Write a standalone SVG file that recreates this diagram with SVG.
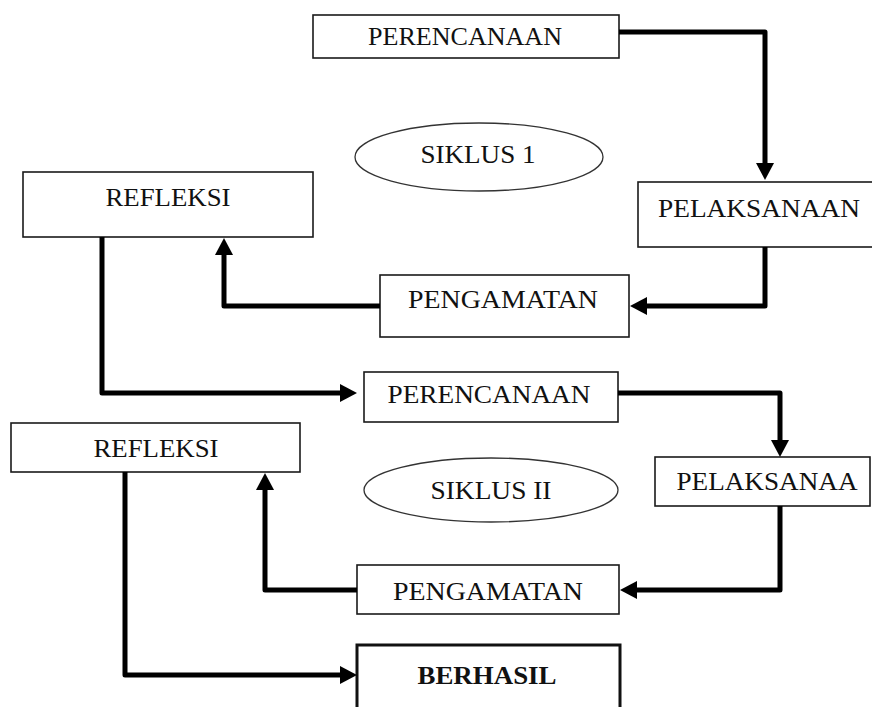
<svg xmlns="http://www.w3.org/2000/svg" width="872" height="707" viewBox="0 0 872 707">
<style>
.box{fill:#fff;stroke:#1a1a1a;stroke-width:1.6}
.bold{fill:#fff;stroke:#111;stroke-width:3}
.ell{fill:#fff;stroke:#333;stroke-width:1.3}
.t{font-family:"Liberation Serif","Times New Roman",serif;font-size:26px;fill:#111;text-anchor:middle}
.tb{font-family:"Liberation Serif","Times New Roman",serif;font-size:26px;font-weight:bold;fill:#111;text-anchor:middle}
.c{fill:none;stroke:#000;stroke-width:5;stroke-linejoin:round}
</style>
<defs>
<marker id="ah" markerUnits="userSpaceOnUse" markerWidth="18" markerHeight="18" refX="0" refY="9" orient="auto" viewBox="0 0 18 18">
<path d="M0,0 L17,9 L0,18 z" fill="#000"/>
</marker>
</defs>
<rect width="872" height="707" fill="#fff"/>
<g id="perencanaan1"><rect class="box" x="313" y="15" width="306" height="43"/><text class="t" x="465" y="45" textLength="194" lengthAdjust="spacingAndGlyphs">PERENCANAAN</text></g>
<g id="siklus1"><ellipse class="ell" cx="479" cy="157" rx="124" ry="34"/><text class="t" x="478" y="163" textLength="115" lengthAdjust="spacingAndGlyphs">SIKLUS 1</text></g>
<g id="pelaksanaan1"><rect class="box" x="638" y="182" width="240" height="65"/><text class="t" x="759" y="217" textLength="202" lengthAdjust="spacingAndGlyphs">PELAKSANAAN</text></g>
<g id="refleksi1"><rect class="box" x="23" y="172" width="290" height="65"/><text class="t" x="168" y="206" textLength="125" lengthAdjust="spacingAndGlyphs">REFLEKSI</text></g>
<g id="pengamatan1"><rect class="box" x="380" y="275" width="249" height="62"/><text class="t" x="503" y="308" textLength="190" lengthAdjust="spacingAndGlyphs">PENGAMATAN</text></g>
<g id="perencanaan2"><rect class="box" x="364" y="372" width="254" height="50"/><text class="t" x="489" y="403" textLength="203" lengthAdjust="spacingAndGlyphs">PERENCANAAN</text></g>
<g id="refleksi2"><rect class="box" x="11" y="423" width="289" height="49"/><text class="t" x="156" y="457" textLength="125" lengthAdjust="spacingAndGlyphs">REFLEKSI</text></g>
<g id="siklus2"><ellipse class="ell" cx="491" cy="490" rx="127" ry="32"/><text class="t" x="491" y="499" textLength="121" lengthAdjust="spacingAndGlyphs">SIKLUS II</text></g>
<g id="pelaksanaa2"><rect class="box" x="655" y="457" width="215" height="49"/><text class="t" x="767" y="490" textLength="181" lengthAdjust="spacingAndGlyphs">PELAKSANAA</text></g>
<g id="pengamatan2"><rect class="box" x="357" y="565" width="262" height="49"/><text class="t" x="488" y="600" textLength="190" lengthAdjust="spacingAndGlyphs">PENGAMATAN</text></g>
<g id="berhasil"><rect class="bold" x="357" y="645" width="263" height="80"/><text class="tb" x="487" y="684" textLength="139" lengthAdjust="spacingAndGlyphs">BERHASIL</text></g>
<g id="connectors">
<path class="c" d="M619,32 H765 V163" marker-end="url(#ah)"/>
<path class="c" d="M765,247 V306 H647" marker-end="url(#ah)"/>
<path class="c" d="M380,306 H224 V255" marker-end="url(#ah)"/>
<path class="c" d="M102,237 V393 H340" marker-end="url(#ah)"/>
<path class="c" d="M618,393 H780 V440" marker-end="url(#ah)"/>
<path class="c" d="M780,506 V590 H637" marker-end="url(#ah)"/>
<path class="c" d="M357,590 H265 V490" marker-end="url(#ah)"/>
<path class="c" d="M125,472 V675 H340" marker-end="url(#ah)"/>
</g>
</svg>
